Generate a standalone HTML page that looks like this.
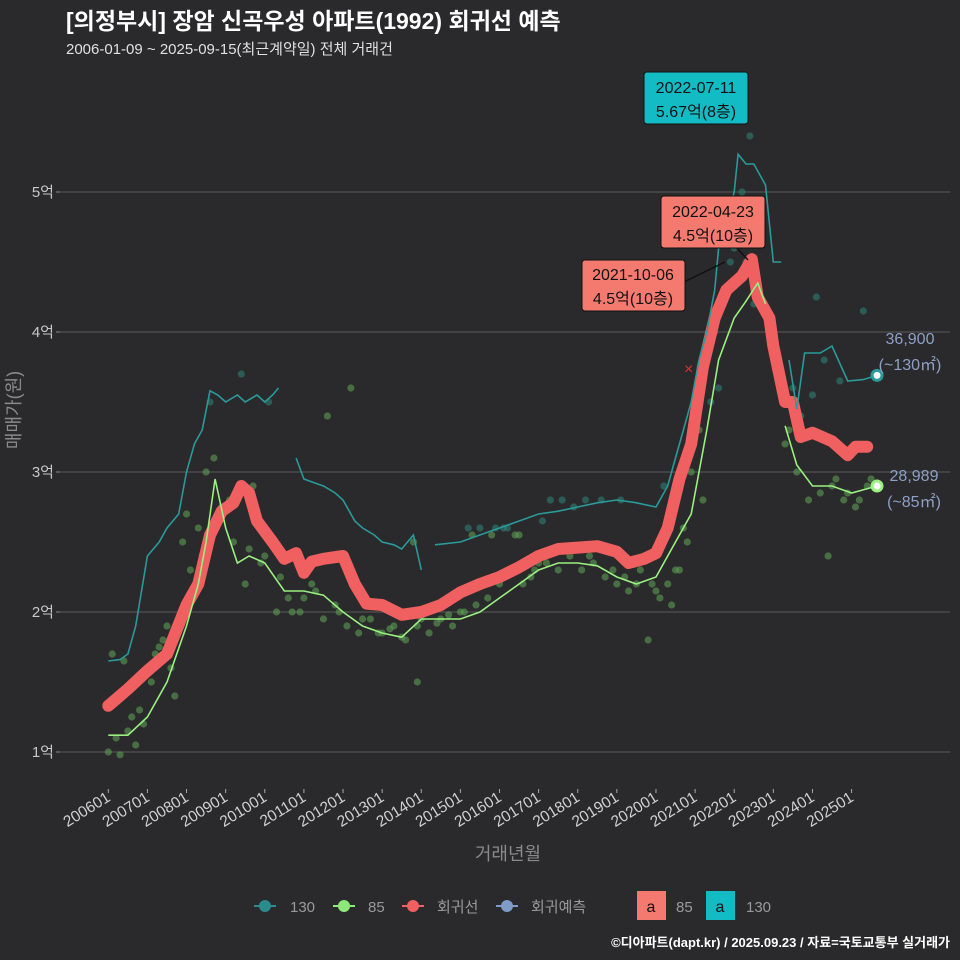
<!DOCTYPE html>
<html><head><meta charset="utf-8">
<style>
html,body{margin:0;padding:0;background:#2a292b;}
svg{display:block;font-family:"Liberation Sans","Noto Sans CJK KR",sans-serif;}
</style></head>
<body>
<svg id="chart" width="960" height="960" viewBox="0 0 960 960">
<rect x="0" y="0" width="960" height="960" fill="#2a292b"/>
<text x="66" y="29" fill="#ffffff" font-size="23" font-weight="bold">[의정부시] 장암 신곡우성 아파트(1992) 회귀선 예측</text>
<text x="66" y="54" fill="#e0e0e0" font-size="15">2006-01-09 ~ 2025-09-15(최근계약일) 전체 거래건</text>
<g id="grid"></g>
<g id="yaxis"></g>
<g id="xaxis"></g>
<g id="points"></g>
<g id="lines"></g>
<text transform="translate(20,410) rotate(-90)" text-anchor="middle" fill="#8a8a8a" font-size="18">매매가(원)</text>
<text x="508" y="860" text-anchor="middle" fill="#8a8a8a" font-size="18">거래년월</text>
<g id="legend">
  <g><line x1="254" y1="906" x2="276" y2="906" stroke="#2a8c8c" stroke-width="2"/><circle cx="265" cy="906" r="6" fill="#2a8c8c"/><text x="290" y="912" fill="#9a9a9a" font-size="15">130</text></g>
  <g><line x1="333" y1="906" x2="355" y2="906" stroke="#8de87a" stroke-width="2"/><circle cx="344" cy="906" r="6" fill="#8de87a"/><text x="368" y="912" fill="#9a9a9a" font-size="15">85</text></g>
  <g><line x1="402" y1="906" x2="424" y2="906" stroke="#f06060" stroke-width="2"/><circle cx="413" cy="906" r="6" fill="#f06060"/><text x="437" y="912" fill="#9a9a9a" font-size="15">회귀선</text></g>
  <g><line x1="496" y1="906" x2="518" y2="906" stroke="#7f9cc8" stroke-width="2"/><circle cx="507" cy="906" r="6" fill="#7f9cc8"/><text x="531" y="912" fill="#9a9a9a" font-size="15">회귀예측</text></g>
  <g><rect x="637" y="891" width="29" height="29" fill="#f47a70"/><text x="651" y="912" text-anchor="middle" fill="#111" font-size="16">a</text><text x="676" y="912" fill="#9a9a9a" font-size="15">85</text></g>
  <g><rect x="706" y="891" width="29" height="29" fill="#13bcc4"/><text x="720" y="912" text-anchor="middle" fill="#111" font-size="16">a</text><text x="746" y="912" fill="#9a9a9a" font-size="15">130</text></g>
</g>
<text x="950" y="947" text-anchor="end" fill="#ffffff" font-size="13" font-weight="bold">©디아파트(dapt.kr) / 2025.09.23 / 자료=국토교통부 실거래가</text>
<g>
 <line x1="725" y1="262" x2="684" y2="282" stroke="#111" stroke-width="1.5"/>
 <line x1="735" y1="246" x2="748" y2="260" stroke="#111" stroke-width="1.5"/>
 <text x="684" y="374" fill="#e03030" font-size="16">×</text>
 <g><rect x="644" y="72" width="104" height="52" rx="3" fill="#13bcc4" stroke="#111"/><text x="696" y="93" text-anchor="middle" font-size="16" fill="#111">2022-07-11</text><text x="696" y="117" text-anchor="middle" font-size="16" fill="#111">5.67억(8층)</text></g>
 <g><rect x="661" y="196" width="104" height="52" rx="3" fill="#f47a70" stroke="#111"/><text x="713" y="217" text-anchor="middle" font-size="16" fill="#111">2022-04-23</text><text x="713" y="241" text-anchor="middle" font-size="16" fill="#111">4.5억(10층)</text></g>
 <g><rect x="582" y="260" width="103" height="51" rx="3" fill="#f47a70" stroke="#111"/><text x="633" y="280" text-anchor="middle" font-size="16" fill="#111">2021-10-06</text><text x="633" y="304" text-anchor="middle" font-size="16" fill="#111">4.5억(10층)</text></g>
 <g><text x="910" y="344" text-anchor="middle" font-size="16" fill="#8ea0c4">36,900</text><text x="910" y="370" text-anchor="middle" font-size="16" fill="#8ea0c4">(~130㎡)</text></g>
 <g><text x="914" y="481" text-anchor="middle" font-size="16" fill="#8ea0c4">28,989</text><text x="914" y="507" text-anchor="middle" font-size="16" fill="#8ea0c4">(~85㎡)</text></g>
</g>
</svg>
<script>
const yTicks=[1,2,3,4,5];
const yTickLabels=["1억","2억","3억","4억","5억"];
const xTickYears=[2006,2007,2008,2009,2010,2011,2012,2013,2014,2015,2016,2017,2018,2019,2020,2021,2022,2023,2024,2025];
const xTickLabels=["200601","200701","200801","200901","201001","201101","201201","201301","201401","201501","201601","201701","201801","201901","202001","202101","202201","202301","202401","202501"];
const regYears=[2006.0,2006.5,2007.0,2007.5,2008.0,2008.3,2008.6,2008.9,2009.2,2009.4,2009.6,2009.8,2010.2,2010.5,2010.8,2011.0,2011.2,2011.5,2012.0,2012.3,2012.6,2013.0,2013.5,2014.0,2014.5,2015.0,2015.5,2016.0,2016.5,2017.0,2017.5,2018.0,2018.5,2019.0,2019.3,2019.7,2020.0,2020.3,2020.6,2020.9,2021.2,2021.5,2021.8,2022.2,2022.45,2022.6,2022.9,2023.0,2023.3,2023.5,2023.7,2024.0,2024.5,2024.9,2025.1,2025.4];
const regValues=[1.33,1.45,1.58,1.7,2.05,2.2,2.55,2.72,2.78,2.9,2.85,2.65,2.5,2.38,2.42,2.28,2.36,2.38,2.4,2.2,2.06,2.05,1.98,2.0,2.05,2.14,2.2,2.25,2.32,2.4,2.45,2.46,2.47,2.43,2.35,2.38,2.42,2.6,2.95,3.2,3.75,4.1,4.3,4.4,4.52,4.25,4.1,3.9,3.5,3.5,3.25,3.28,3.22,3.12,3.18,3.18];
const s130Segments=[
 [[2006.0,1.65],[2006.3,1.66],[2006.5,1.7],[2006.7,1.9],[2007.0,2.4],[2007.3,2.5],[2007.5,2.6],[2007.8,2.7],[2008.0,3.0],[2008.2,3.2],[2008.4,3.3],[2008.6,3.58],[2008.8,3.55],[2009.0,3.5],[2009.3,3.55],[2009.5,3.5],[2009.8,3.55],[2010.0,3.5],[2010.2,3.55],[2010.35,3.6]],
 [[2010.8,3.1],[2011.0,2.95],[2011.3,2.92],[2011.5,2.9],[2011.8,2.85],[2012.0,2.8],[2012.3,2.65],[2012.5,2.6],[2012.8,2.55],[2013.0,2.5],[2013.3,2.48],[2013.5,2.45],[2013.8,2.55],[2014.0,2.3]],
 [[2014.35,2.48],[2015.0,2.5],[2015.5,2.55],[2016.0,2.6],[2016.5,2.65],[2017.0,2.7],[2017.5,2.72],[2018.0,2.75],[2018.5,2.78],[2019.0,2.8],[2019.5,2.78],[2020.0,2.75],[2020.3,2.9],[2020.5,3.1],[2020.7,3.3],[2020.9,3.5],[2021.1,3.8],[2021.3,4.0],[2021.5,4.3],[2021.6,4.6],[2021.8,4.8],[2022.0,5.0],[2022.1,5.27],[2022.3,5.2],[2022.5,5.2],[2022.8,5.05],[2023.0,4.5],[2023.2,4.5]],
 [[2023.4,3.8],[2023.6,3.45],[2023.8,3.85],[2024.2,3.85],[2024.5,3.9],[2024.9,3.65],[2025.3,3.66],[2025.65,3.69]]
];
const s85Segments=[
 [[2006.0,1.12],[2006.5,1.12],[2007.0,1.25],[2007.5,1.5],[2008.0,1.9],[2008.3,2.2],[2008.5,2.5],[2008.73,2.95],[2009.0,2.6],[2009.3,2.35],[2009.6,2.4],[2010.0,2.35],[2010.5,2.15],[2011.0,2.15],[2011.5,2.12],[2012.0,2.0],[2012.5,1.9],[2013.0,1.85],[2013.5,1.82],[2014.0,1.95],[2014.5,1.95],[2015.0,1.95],[2015.5,2.0],[2016.0,2.1],[2016.5,2.2],[2017.0,2.3],[2017.5,2.35],[2018.0,2.35],[2018.5,2.33],[2019.0,2.25],[2019.5,2.2],[2020.0,2.25],[2020.5,2.5],[2020.9,2.7],[2021.3,3.3],[2021.6,3.8],[2022.0,4.1],[2022.3,4.22],[2022.6,4.35],[2022.8,4.2]],
 [[2023.3,3.33],[2023.6,3.05],[2024.0,2.9],[2024.5,2.9],[2025.0,2.85],[2025.65,2.9]]
];
const ptYears=[2006.0,2006.1,2006.2,2006.3,2006.5,2006.7,2006.9,2007.1,2007.3,2007.5,2007.7,2007.9,2008.1,2008.3,2008.5,2008.7,2008.9,2009.2,2009.5,2009.7,2010.0,2010.3,2010.6,2010.9,2011.2,2011.5,2011.8,2012.1,2012.4,2012.7,2013.0,2013.3,2013.6,2013.9,2014.2,2014.5,2014.8,2015.1,2015.4,2015.7,2016.0,2016.3,2016.6,2016.9,2017.2,2017.5,2017.8,2018.1,2018.4,2018.7,2019.0,2019.3,2019.6,2019.9,2020.1,2020.3,2020.5,2020.7,2020.9,2021.1,2021.3,2021.5,2021.7,2021.9,2022.1,2022.3,2022.5,2023.3,2023.6,2023.9,2024.2,2024.5,2024.8,2025.1,2025.4,2008.6,2009.4,2010.1,2011.6,2012.2,2013.8,2015.2,2016.1,2017.3,2018.2,2019.1,2020.2,2021.0,2022.4,2023.5,2024.1,2024.7,2025.3,2013.9,2019.8,2024.4,
 2006.4,2006.6,2006.8,2007.2,2007.4,2007.6,2008.0,2008.4,2009.1,2009.6,2009.9,2010.4,2010.7,2011.0,2011.3,2011.9,2012.5,2012.9,2013.2,2013.5,2014.0,2014.4,2014.7,2015.0,2015.5,2015.8,2016.2,2016.5,2016.8,2017.0,2017.6,2017.9,2018.3,2018.6,2018.9,2019.2,2019.5,2020.0,2020.4,2020.6,2020.8,2021.2,2021.4,2021.6,2021.8,2022.0,2022.2,2023.4,2023.7,2024.0,2024.3,2024.6,2024.9,2025.2,2025.5,2015.3,2015.9,2016.4,2017.1,2017.4];
const ptValues=[1.0,1.7,1.1,0.98,1.15,1.05,1.2,1.5,1.75,1.9,1.4,2.5,2.3,2.6,3.0,3.1,2.75,2.5,2.2,2.9,2.4,2.0,2.1,2.0,2.2,1.95,2.05,1.9,1.85,1.95,1.85,1.9,1.8,1.9,1.85,1.95,1.9,2.0,2.05,2.1,2.2,2.3,2.2,2.3,2.35,2.3,2.4,2.3,2.35,2.25,2.2,2.15,2.3,2.2,2.1,2.2,2.3,2.6,3.0,3.3,3.8,4.0,4.2,4.5,4.4,4.5,4.2,3.2,3.0,2.8,2.85,2.9,2.8,2.75,2.9,3.5,3.7,3.5,3.4,3.6,2.5,2.6,2.6,2.8,2.8,2.8,2.9,3.4,5.4,3.6,4.25,3.65,4.15,1.5,1.8,2.4,
 1.65,1.25,1.3,1.7,1.8,1.6,2.7,2.4,2.8,2.45,2.35,2.25,2.0,2.1,2.15,2.0,1.95,1.85,1.88,1.82,1.95,1.92,1.98,2.0,2.6,2.55,2.6,2.55,2.25,2.35,2.8,2.75,2.4,2.8,2.3,2.25,2.2,2.15,2.05,2.3,2.5,2.8,3.5,3.6,4.3,4.6,5.0,3.3,3.4,3.55,3.8,2.95,2.85,2.8,2.95,2.55,2.6,2.55,2.65,2.45];
const X=y=>108.3+39.12*(y-2006);
const Y=v=>752-(v-1)*140;
const NS="http://www.w3.org/2000/svg";
function mk(tag,attrs,parent){const e=document.createElementNS(NS,tag);for(const k in attrs)e.setAttribute(k,attrs[k]);parent.appendChild(e);return e;}
const grid=document.getElementById('grid'),ya=document.getElementById('yaxis'),xa=document.getElementById('xaxis');
yTicks.forEach((t,i)=>{
 const l=mk('line',{x1:60,x2:950,y1:Y(t),y2:Y(t),stroke:'#5a5a5a','stroke-width':1},grid);
 
 
 const tk=mk('line',{x1:56,x2:60,y1:Y(t),y2:Y(t),stroke:'#888'},ya);
 
 
 const tx=mk('text',{x:54,y:Y(t)+5,'text-anchor':'end',fill:'#c8c8c8','font-size':15},ya);
 tx.textContent=yTickLabels[i];
 
 
});
xTickYears.forEach((t,i)=>{
 const x=X(t);
 const tk=mk('line',{x1:x,x2:x,y1:789,y2:793,stroke:'#aaa'},xa);
 
 
 const tx=mk('text',{x:x+3,y:800,'text-anchor':'end',fill:'#d0d0d0','font-size':15.5,transform:`rotate(-32 ${x+3} 800)`},xa);
 tx.textContent=xTickLabels[i];
 
 
});
const pts=document.getElementById('points');
ptYears.forEach((yr,i)=>{
 const v=ptValues[i];
 const teal=(yr>2021.3&&v>3.3)||(yr<2011&&v>3.3)||(yr>2014.3&&yr<2020.5&&v>2.55);
 const c=mk('circle',{cx:X(yr),cy:Y(v),r:3.6,fill:teal?'#2d7e72':'#5e9c55','fill-opacity':0.6},pts);
 
 
});
const lines=document.getElementById('lines');
function path(p){return p.map((q,i)=>(i?'L':'M')+X(q[0]).toFixed(1)+','+Y(q[1]).toFixed(1)).join(' ');}
const reg=regYears.map((y,i)=>[y,regValues[i]]);
const r=mk('path',{d:path(reg),fill:'none',stroke:'#f06060','stroke-width':12,'stroke-linejoin':'round','stroke-linecap':'round'},lines);


s130Segments.forEach(s=>{
 const p=mk('path',{d:path(s),fill:'none',stroke:'#2a9a9a','stroke-width':1.6},lines);
 
 
});
s85Segments.forEach(s=>{
 const p=mk('path',{d:path(s),fill:'none',stroke:'#9af080','stroke-width':1.6},lines);
 
 
});
const last130=s130Segments[3][s130Segments[3].length-1], last85=s85Segments[1][s85Segments[1].length-1];
const e1=mk('circle',{cx:X(last130[0]),cy:Y(last130[1]),r:5,fill:'#fff',stroke:'#2a9a9a','stroke-width':3},lines);


const e2=mk('circle',{cx:X(last85[0]),cy:Y(last85[1]),r:5,fill:'#fff',stroke:'#9af080','stroke-width':3},lines);


</script>
</body></html>
